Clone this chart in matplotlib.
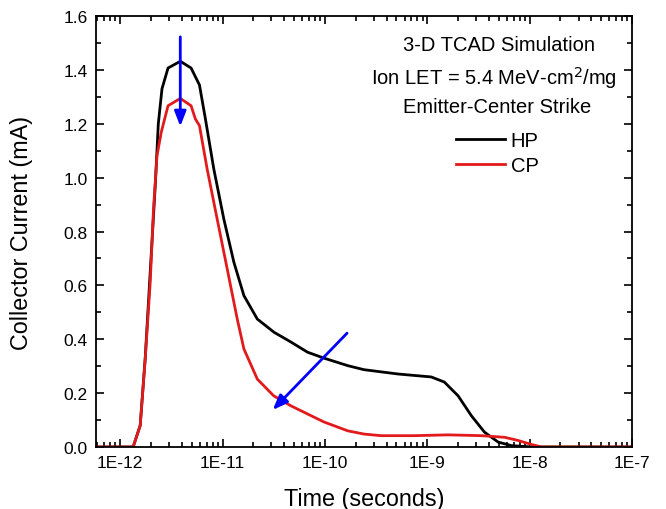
import matplotlib.pyplot as plt
import numpy as np
from matplotlib.ticker import FixedLocator, LogLocator, MultipleLocator, NullFormatter

plt.rcParams['font.family'] = ['Liberation Sans', 'DejaVu Sans']

# time points (log10 of seconds) and currents in mA
hp_logt = [-12.6, -11.873, -11.804, -11.755, -11.706, -11.657, -11.627, -11.591, -11.532, -11.412,
           -11.307, -11.225, -11.167, -11.085, -10.987, -10.889, -10.791, -10.660, -10.497, -10.333,
           -10.170, -10.010, -9.777, -9.618, -9.287, -8.961, -8.833, -8.699, -8.569, -8.441,
           -8.307, -8.176, -7.980, -7.0]
hp_ma = [0.0, 0.0, 0.08, 0.33, 0.65, 0.97, 1.20, 1.33, 1.407, 1.432,
         1.407, 1.344, 1.218, 1.032, 0.846, 0.686, 0.562, 0.475, 0.426, 0.39,
         0.352, 0.33, 0.302, 0.287, 0.271, 0.26, 0.241, 0.19, 0.116, 0.055,
         0.018, 0.005, 0.0, 0.0]

cp_logt = [-12.6, -11.873, -11.804, -11.755, -11.706, -11.674, -11.640, -11.598, -11.532, -11.412,
           -11.307, -11.265, -11.225, -11.150, -11.052, -10.954, -10.856, -10.791, -10.660, -10.500,
           -10.333, -10.010, -9.777, -9.618, -9.451, -9.127, -8.797, -8.471, -8.245, -8.111,
           -7.980, -7.882, -7.0]
cp_ma = [0.0, 0.0, 0.079, 0.327, 0.612, 0.883, 1.081, 1.169, 1.267, 1.294,
         1.267, 1.218, 1.193, 1.032, 0.846, 0.661, 0.475, 0.364, 0.252, 0.19,
         0.153, 0.093, 0.06, 0.048, 0.042, 0.042, 0.045, 0.042, 0.036, 0.024,
         0.009, 0.0, 0.0]

fig = plt.figure(figsize=(6.66, 5.1), dpi=100)
ax = fig.add_axes([0.144, 0.1216, 0.805, 0.845])

ax.plot(10 ** np.array(hp_logt), hp_ma, color='black', lw=2, label='HP')
ax.plot(10 ** np.array(cp_logt), cp_ma, color='#e31a1c', lw=2, label='CP')

ax.set_xscale('log')
ax.set_xlim(5.8e-13, 1e-7)
ax.set_ylim(0, 1.6)

xt = [1e-12, 1e-11, 1e-10, 1e-9, 1e-8, 1e-7]
ax.xaxis.set_major_locator(FixedLocator(xt))
ax.set_xticklabels(['1E-12', '1E-11', '1E-10', '1E-9', '1E-8', '1E-7'])
ax.xaxis.set_minor_locator(LogLocator(base=10, subs=np.arange(2, 10), numticks=20))
ax.xaxis.set_minor_formatter(NullFormatter())
ax.yaxis.set_major_locator(MultipleLocator(0.2))
ax.yaxis.set_minor_locator(MultipleLocator(0.1))
ax.yaxis.set_major_formatter(plt.FormatStrFormatter('%.1f'))

ax.tick_params(which='both', direction='in', top=True, right=True, labelsize=12.5, width=1.2)
ax.tick_params(which='major', length=6, pad=6)
ax.tick_params(which='minor', length=3.5)
for s in ax.spines.values():
    s.set_linewidth(1.3)

ax.set_xlabel('Time (seconds)', fontsize=16.8, labelpad=12)
ax.set_ylabel('Collector Current (mA)', fontsize=16.8, labelpad=22)

ax.text(0.752, 0.935, '3-D TCAD Simulation', transform=ax.transAxes, ha='center', va='center', fontsize=14.5)
ax.text(0.742, 0.858, 'Ion LET = 5.4 MeV-cm$^2$/mg', transform=ax.transAxes, ha='center', va='center', fontsize=14.5)
ax.text(0.748, 0.791, 'Emitter-Center Strike', transform=ax.transAxes, ha='center', va='center', fontsize=14.5)

ax.legend(loc='upper left', bbox_to_anchor=(0.672, 0.733), frameon=False, fontsize=14.5,
          borderaxespad=0, borderpad=0, handlelength=2.4, handletextpad=0.3, labelspacing=0.3)

# blue arrows
ax.annotate('', xy=(3.87e-12, 1.18), xytext=(3.87e-12, 1.533),
            arrowprops=dict(arrowstyle='-|>,head_width=0.35,head_length=0.9', color='blue', lw=2))
ax.annotate('', xy=(2.96e-11, 0.13), xytext=(1.72e-10, 0.43),
            arrowprops=dict(arrowstyle='-|>,head_width=0.35,head_length=0.9', color='blue', lw=2))

fig.savefig('out.png', dpi=100)
